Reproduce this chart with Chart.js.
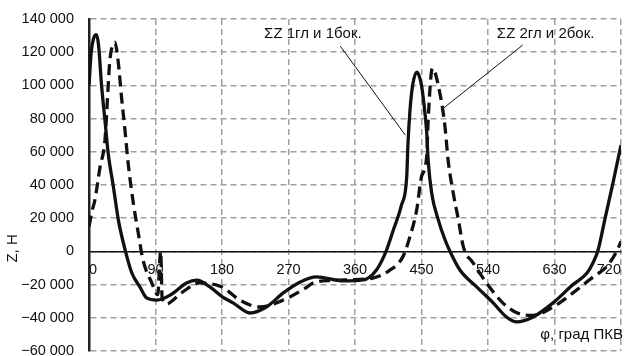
<!DOCTYPE html>
<html>
<head>
<meta charset="utf-8">
<script src="https://cdn.jsdelivr.net/npm/chart.js@4/dist/chart.umd.min.js"></script>
<style>
  html, body { margin: 0; padding: 0; background: #fff; }
  #wrap { width: 625px; height: 356px; }
</style>
</head>
<body>
<div id="wrap"><canvas id="chart"></canvas></div>
<script>
// угол, град ПКВ и сила Z, Н — ΣZ 1гл и 1бок. (сплошная)
const phi1 = [0, 3, 6, 10, 13, 17, 21.6, 26, 33, 39.7, 50, 58, 69, 78, 92, 110, 132, 146, 164, 181, 195, 218, 240, 263, 286, 308, 344, 371, 389, 402, 412, 423, 430, 431.7, 434.4, 438, 443.5, 447, 450, 453, 457, 459, 463.8, 472.7, 481.8, 488.6, 502, 525, 547, 565, 579, 601, 628, 655, 674, 682, 689, 698, 709, 720];
const z1 = [100000, 120000, 128000, 130500, 124000, 100000, 79000, 59000, 39000, 19000, -1000, -13000, -21500, -28000, -29300, -26300, -19000, -17300, -21500, -27500, -31000, -37100, -33500, -25000, -18400, -15400, -17800, -17200, -11200, 0, 13000, 28000, 45000, 65000, 85000, 100000, 108000, 105500, 100000, 90000, 72000, 55000, 35000, 19000, 7000, 0, -11200, -21500, -31000, -39500, -42500, -39500, -31000, -20000, -13000, -7000, 800, 19000, 41000, 64000];

// ΣZ 2гл и 2бок. (штриховая)
const phi2 = [0, 4, 8, 15, 21.6, 26, 28, 31, 35, 39.7, 44, 48.7, 53, 60, 66.7, 73, 85, 93, 97, 99, 105, 125, 150, 180, 204, 231, 263, 295, 303, 330, 360, 385, 405, 425, 434.4, 443.5, 450, 457, 459, 464.7, 475, 481.8, 486, 493, 500, 506.5, 520, 538, 560, 579, 601, 628, 655, 682, 701, 715, 720];
const z2 = [15000, 24000, 31000, 51000, 67000, 100000, 114000, 123000, 126000, 113500, 93000, 73000, 53000, 29000, 11000, -5000, -19000, -26000, 0, -28000, -31500, -25000, -19000, -21500, -29300, -33500, -29300, -21500, -19000, -17500, -17000, -16000, -12000, -3000, 9000, 25000, 45000, 57000, 79000, 110300, 95000, 75000, 55000, 35000, 19000, 3000, -7000, -19000, -31000, -37000, -38500, -33500, -25000, -15500, -9000, 800, 6000];

const seriesNames = ["ΣZ 1гл и 1бок.", "ΣZ 2гл и 2бок."];
const xTicks = [0, 90, 180, 270, 360, 450, 540, 630, 720];
const yTicks = [-60000, -40000, -20000, 0, 20000, 40000, 60000, 80000, 100000, 120000, 140000];

// подписи-выноски: текст (φ, Z) и линия от (φ, Z) к (φ, Z)
const notes = [
  { text: seriesNames[0], at: [237, 131000], from: [340, 123700], to: [428, 70100] },
  { text: seriesNames[1], at: [552, 131000], from: [587, 124300], to: [479.5, 86200] },
];

const FONT = "'Liberation Sans', Arial, sans-serif";
const INK = "#111";
const GRID = "#a0a0a0";

function fmt(v) {
  const s = Math.abs(v).toString().replace(/\B(?=(\d{3})+(?!\d))/g, " ");
  return v < 0 ? "\u2212" + s : s;
}

function pts(xs, ys) {
  return xs.map((x, i) => ({ x: x, y: ys[i] }));
}

// подписи, выноски и названия осей
const labelsPlugin = {
  id: "labels",
  afterDraw(chart) {
    const { ctx, scales, chartArea } = chart;
    const xs = scales.x, ys = scales.y;
    ctx.save();
    ctx.fillStyle = INK;
    ctx.strokeStyle = INK;
    ctx.font = "15px " + FONT;
    ctx.textBaseline = "middle";
    ctx.textAlign = "left";
    notes.forEach((n) => {
      ctx.fillText(n.text, xs.getPixelForValue(n.at[0]), ys.getPixelForValue(n.at[1]));
      ctx.lineWidth = 1;
      ctx.beginPath();
      ctx.moveTo(xs.getPixelForValue(n.from[0]), ys.getPixelForValue(n.from[1]));
      ctx.lineTo(xs.getPixelForValue(n.to[0]), ys.getPixelForValue(n.to[1]));
      ctx.stroke();
    });

    // φ, град ПКВ
    ctx.textAlign = "right";
    ctx.fillText("φ, град ПКВ", chartArea.right + 2, chartArea.bottom - 16);

    // Z, Н
    ctx.translate(13, ys.getPixelForValue(0) - 3);
    ctx.rotate(-Math.PI / 2);
    ctx.textAlign = "center";
    ctx.fillText("Z, Н", 0, 0);
    ctx.restore();
  },
};

new Chart(document.getElementById("chart"), {
  type: "line",
  data: {
    datasets: [
      {
        label: seriesNames[0],
        data: pts(phi1, z1),
        borderColor: INK,
        borderWidth: 3.3,
        pointRadius: 0,
        cubicInterpolationMode: "monotone",
        fill: false,
      },
      {
        label: seriesNames[1],
        data: pts(phi2, z2),
        borderColor: INK,
        borderWidth: 3.3,
        borderDash: [11, 6],
        pointRadius: 0,
        cubicInterpolationMode: "monotone",
        fill: false,
      },
    ],
  },
  options: {
    responsive: true,
    maintainAspectRatio: false,
    animation: false,
    layout: { padding: { left: 0, right: 4, top: 19, bottom: 5 } },
    plugins: { legend: { display: false }, tooltip: { enabled: false } },
    scales: {
      x: {
        type: "linear",
        min: 0,
        max: 720,
        position: { y: 0 },
        afterBuildTicks(scale) {
          scale.ticks = xTicks.map((v) => ({ value: v }));
        },
        afterFit(scale) {
          scale.paddingLeft = 0;
          scale.paddingRight = 0;
        },
        ticks: {
          font: { family: FONT, size: 14.5 },
          color: INK,
          padding: 10,
          align: "inner",
          maxRotation: 0,
        },
        grid: {
          color: GRID,
          lineWidth: 1.5,
          drawTicks: false,
        },
        // dash — для линий сетки, сама ось (ноль) рисуется сплошной
        border: { display: true, color: INK, width: 1.5, dash: [6, 4] },
      },
      y: {
        type: "linear",
        min: -60000,
        max: 140000,
        afterBuildTicks(scale) {
          scale.ticks = yTicks.map((v) => ({ value: v }));
        },
        afterFit(scale) {
          scale.width = 89;
          scale.paddingTop = 0;
          scale.paddingBottom = 0;
        },
        ticks: {
          font: { family: FONT, size: 14.5 },
          color: INK,
          padding: 15,
          callback: (v) => fmt(v),
        },
        grid: {
          color: GRID,
          lineWidth: 1.5,
          drawTicks: false,
        },
        border: { display: true, color: "#222", width: 2.5, dash: [6, 4] },
      },
    },
  },
  plugins: [labelsPlugin],
});
</script>
</body>
</html>
